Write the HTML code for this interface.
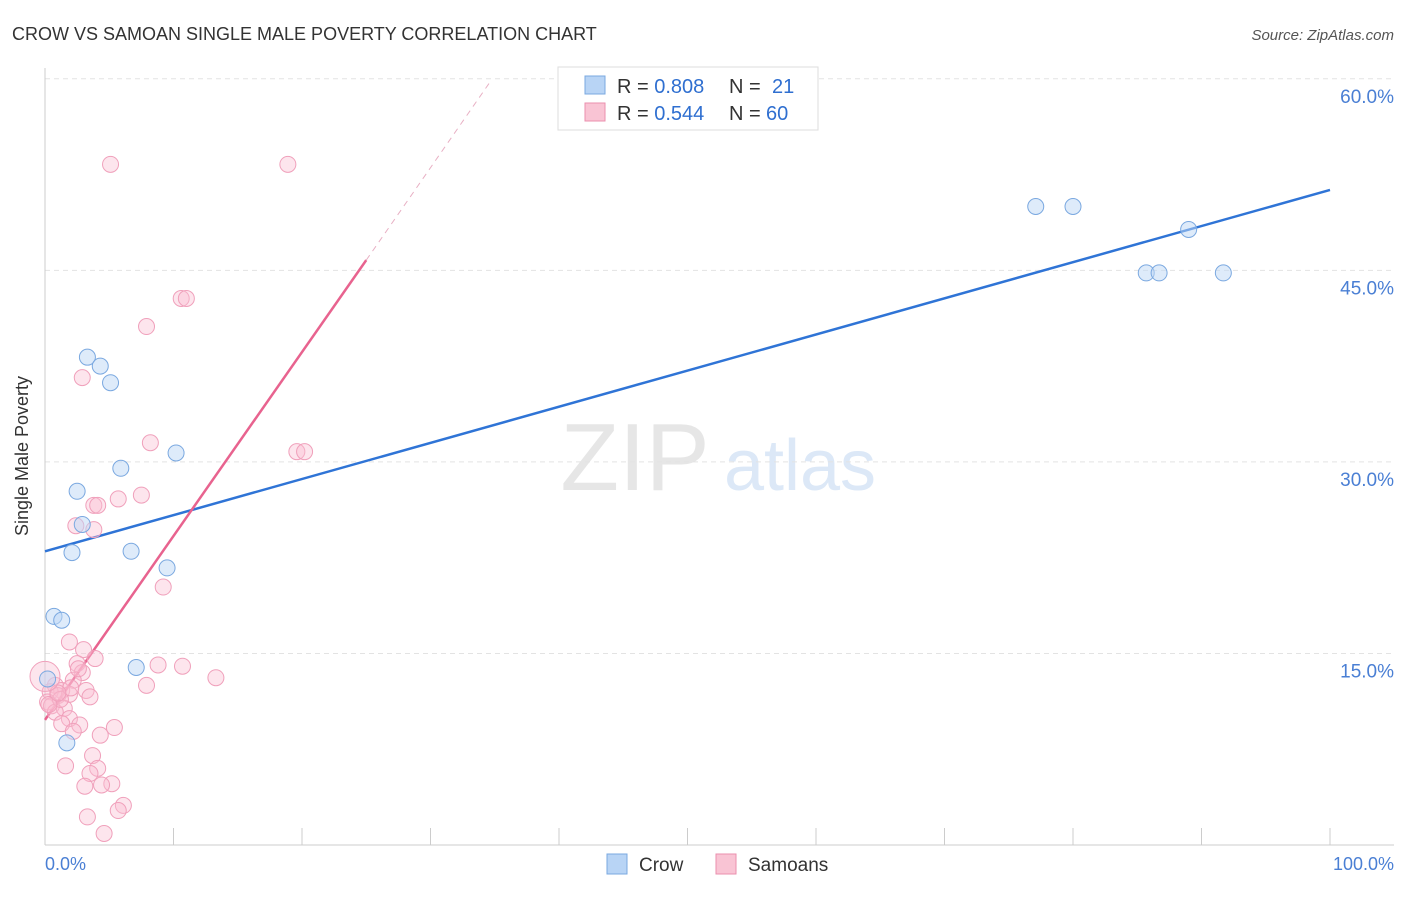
<!DOCTYPE html>
<html><head><meta charset="utf-8"><style>
body{margin:0;background:#fff;font-family:"Liberation Sans",sans-serif}
svg text{font-family:"Liberation Sans",sans-serif}
</style></head><body>
<svg id="c" width="1406" height="892" viewBox="0 0 1406 892">
<text x="12" y="40" font-size="18" fill="#333">CROW VS SAMOAN SINGLE MALE POVERTY CORRELATION CHART</text>
<text x="1394" y="40" font-size="15" fill="#555" font-style="italic" text-anchor="end">Source: ZipAtlas.com</text>
<g>
<text x="635" y="490" font-size="96" fill="#e6e6e6" text-anchor="middle" font-family="Liberation Serif">ZIP</text>
<text x="800" y="490" font-size="72" fill="#dce8f7" text-anchor="middle">atlas</text>
</g>
<g id="grid"></g><g id="axes"></g><g id="lines"></g><g id="pts"></g>
<text x="28" y="456" font-size="18" fill="#333" text-anchor="middle" transform="rotate(-90 28 456)">Single Male Poverty</text>
<text x="45" y="870" font-size="18" fill="#4a7fd4">0.0%</text>
<text x="1394" y="870" font-size="18" fill="#4a7fd4" text-anchor="end">100.0%</text>
<g>
<rect x="558" y="67" width="260" height="63" fill="#fff" stroke="#ddd"/>
<rect x="585" y="76" width="20" height="18" fill="#b8d4f5" stroke="#7aa8e0"/>
<rect x="585" y="103" width="20" height="18" fill="#f9c4d4" stroke="#eb8fae"/>
<text x="617" y="93" font-size="20" fill="#333">R = <tspan fill="#2f6fd0">0.808</tspan></text>
<text x="729" y="93" font-size="20" fill="#333">N =</text>
<text x="772" y="93" font-size="20" fill="#2f6fd0">21</text>
<text x="617" y="120" font-size="20" fill="#333">R = <tspan fill="#2f6fd0">0.544</tspan></text>
<text x="729" y="120" font-size="20" fill="#333">N =</text>
<text x="766" y="120" font-size="20" fill="#2f6fd0">60</text>
</g>
<g>
<rect x="607" y="854" width="20" height="20" fill="#b8d4f5" stroke="#7aa8e0"/>
<text x="639" y="871" font-size="19" fill="#333">Crow</text>
<rect x="716" y="854" width="20" height="20" fill="#f9c4d4" stroke="#eb8fae"/>
<text x="748" y="871" font-size="19" fill="#333">Samoans</text>
</g>
</svg>
<script>
const yTicks=[15,30,45,60];
const yTickLabels=["15.0%","30.0%","45.0%","60.0%"];
const xTicks=[0,10,20,30,40,50,60,70,80,90,100];
const crowX=[3.3,4.3,5.1,5.9,10.2,2.5,2.9,2.1,6.7,9.5,0.7,1.3,7.1,0.2,1.7,77.1,80.0,89.0,85.7,86.7,91.7];
const crowY=[38.2,37.5,36.2,29.5,30.7,27.7,25.1,22.9,23.0,21.7,17.9,17.6,13.9,13.0,8.0,50.0,50.0,48.2,44.8,44.8,44.8];
const samX=[5.1,18.9,10.6,11.0,7.9,2.9,8.2,19.6,20.2,7.5,5.7,3.8,4.1,2.4,3.8,9.2,1.9,3.0,3.9,2.5,2.9,8.8,10.7,13.3,7.9,2.2,0.8,1.3,0.4,1.0,1.9,3.2,3.5,0.2,0.5,1.5,0.8,1.9,1.3,2.7,2.2,5.4,4.3,3.7,1.6,4.1,3.5,3.1,5.2,4.4,6.1,5.7,3.3,4.6,1.2,2.0,0.3,1.0,2.6,0.0];
const samY=[53.3,53.3,42.8,42.8,40.6,36.6,31.5,30.8,30.8,27.4,27.1,26.6,26.6,25.0,24.7,20.2,15.9,15.3,14.6,14.2,13.5,14.1,14.0,13.1,12.5,12.9,12.5,12.1,12.0,11.7,11.8,12.1,11.6,11.2,10.9,10.7,10.4,9.9,9.5,9.4,8.9,9.2,8.6,7.0,6.2,6.0,5.6,4.6,4.8,4.7,3.1,2.7,2.2,0.9,11.4,12.3,11.0,11.9,13.8,13.2];
const crowLine=[[0,23.0],[100,51.3]];
const samLine=[[0,9.8],[25,45.8]];
const samDash=[[25,45.8],[34.6,59.7]];
const X=v=>45+v*12.85, Y=v=>845-v*12.77;
const NS="http://www.w3.org/2000/svg";
function mk(t,a,p){const e=document.createElementNS(NS,t);for(const k in a)e.setAttribute(k,a[k]);document.getElementById(p).appendChild(e);return e;}
yTicks.forEach((t,i)=>{
 const g=mk('line',{x1:45,x2:1394,y1:Y(t),y2:Y(t),stroke:'#e3e3e3','stroke-dasharray':'5,4'},'grid');
 
 
 const l=mk('text',{x:1394,y:Y(t)+24,'font-size':19,fill:'#4a7fd4','text-anchor':'end'},'grid');
 l.textContent=yTickLabels[i];
 
 
});
const ax=mk('line',{x1:45,x2:1394,y1:845,y2:845,stroke:'#ccc'},'axes');


const ay=mk('line',{x1:45,x2:45,y1:68,y2:845,stroke:'#ccc'},'axes');


xTicks.forEach(t=>{const e=mk('line',{x1:X(t),x2:X(t),y1:828,y2:845,stroke:'#ccc'},'axes');
 
 });
function ln(d,c,w,dash,n){const e=mk('line',{x1:X(d[0][0]),y1:Y(d[0][1]),x2:X(d[1][0]),y2:Y(d[1][1]),stroke:c,'stroke-width':w},'lines');if(dash)e.setAttribute('stroke-dasharray',dash);
 
 }
ln(crowLine,'#2f74d6',2.5,null,'crow-trendline');
ln(samLine,'#e8638f',2.5,null,'samoan-trendline');
ln(samDash,'#e8b0c4',1,'6,5','samoan-trendline-extension');
samX.forEach((x,i)=>{const e=mk('circle',{cx:X(x),cy:Y(samY[i]),r:i==59?15:8,fill:'rgba(249,190,210,0.4)',stroke:'#f0a0bb','stroke-width':1},'pts');
 
 });
crowX.forEach((x,i)=>{const e=mk('circle',{cx:X(x),cy:Y(crowY[i]),r:8,fill:'rgba(190,215,245,0.5)',stroke:'#7aa8e0','stroke-width':1},'pts');
 
 });
</script>
</body></html>
